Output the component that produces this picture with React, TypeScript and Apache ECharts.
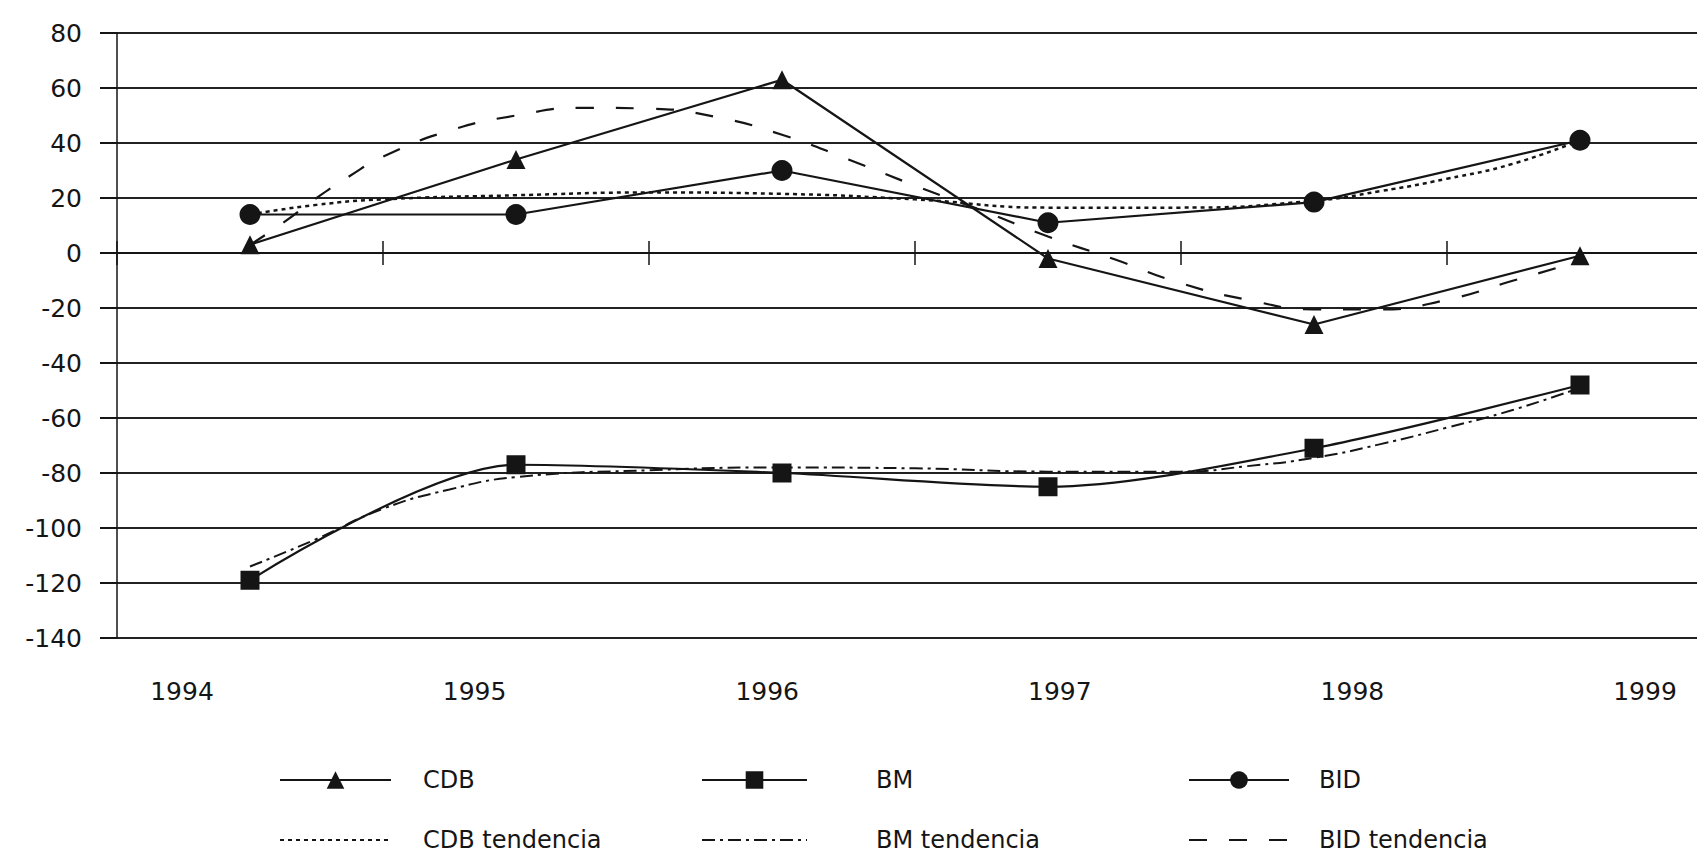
import React, { useEffect, useRef } from "react";
import * as echarts from "echarts";

// ---- data ----
const years = [1994, 1995, 1996, 1997, 1998, 1999];
const yearLabels = ["1994", "1995", "1996", "1997", "1998", "1999"];

const cdbValues = [3, 34, 63, -2, -26, -1];
const bmValues = [-119, -77, -80, -85, -71, -48];
const bidValues = [14, 14, 30, 11, 18.5, 41];

// trend lines (read at fractional years)
const cdbTrendYears = [1994, 1994.25, 1994.5, 1995, 1995.5, 1996, 1996.5, 1997, 1997.5, 1998, 1998.25, 1998.5, 1998.75, 1999];
const cdbTrendValues = [14, 17.5, 19.5, 21, 22, 21.5, 19.5, 16.5, 16.5, 19, 22.5, 27, 32.5, 41];

const bmTrendYears = [1994, 1994.25, 1994.5, 1994.75, 1995, 1995.5, 1996, 1996.5, 1997, 1997.5, 1997.75, 1998, 1998.25, 1998.5, 1998.75, 1999];
const bmTrendValues = [-114, -104, -93, -86, -81.5, -79, -78, -78.3, -79.5, -79.5, -77.5, -74.5, -69.5, -63.5, -57, -49];

const bidTrendYears = [1994, 1994.125, 1994.25, 1994.375, 1994.5, 1994.75, 1995, 1995.25, 1995.5, 1995.75, 1996, 1996.25, 1996.5, 1996.75, 1997, 1997.25, 1997.5, 1997.75, 1998, 1998.25, 1998.5, 1998.75, 1999];
const bidTrendValues = [3, 11, 20, 28, 35, 44.5, 50, 52.8, 52.5, 49.5, 43, 34, 24.5, 15.5, 6, -2.3, -11, -17, -20.5, -20.5, -17, -10, -3];

const yMin = -140;
const yMax = 80;
const yStep = 20;

// axis coordinate: each year occupies 2 units, year centres at odd numbers
const toX = (year: number) => (year - 1993.5) * 2;

const FONT = "DejaVu Sans";
const INK = "#151515";

export default function App() {
  const ref = useRef<HTMLDivElement>(null);

  useEffect(() => {
    if (!ref.current) return;
    const chart = echarts.init(ref.current, null, { renderer: "svg" });

    const main = (vals: number[]) => years.map((y, i) => [toX(y), vals[i]]);
    const trend = (ys: number[], vals: number[]) => ys.map((y, i) => [toX(y), vals[i]]);

    const baseLine = { color: INK, width: 2.2 };

    const xCommon = {
      type: "value" as const,
      gridIndex: 0,
      min: 0,
      max: 12,
      interval: 2,
      axisLabel: { show: false },
      splitLine: { show: false },
      axisTick: { show: true, length: 12, lineStyle: { color: INK, width: 1.5 } },
    };

    const legendText = (padLeft: number) => ({
      fontFamily: FONT,
      fontSize: 24,
      color: INK,
      padding: [0, 0, 0, padLeft],
    });

    const legendCommon = {
      orient: "vertical" as const,
      top: 768,
      itemHeight: 22,
      itemGap: 36,
      padding: 0,
      selectedMode: false,
    };

    chart.setOption({
      animation: false,
      backgroundColor: "#ffffff",
      grid: [
        { left: 117, top: 33, width: 1596, height: 605, containLabel: false, outerBoundsMode: "none" },
        { left: 182, top: 668, width: 1463, height: 1, containLabel: false, outerBoundsMode: "none" },
      ],
      xAxis: [
        {
          ...xCommon,
          position: "bottom",
          axisLine: { show: true, onZero: true, lineStyle: { color: INK, width: 2 } },
        },
        {
          ...xCommon,
          position: "top",
          axisLine: { show: true, onZero: true, onZeroAxisIndex: 0, lineStyle: { color: INK, width: 2 } },
        },
        {
          type: "category",
          gridIndex: 1,
          boundaryGap: false,
          data: yearLabels,
          axisLine: { show: false },
          axisTick: { show: false },
          splitLine: { show: false },
          axisLabel: { show: true, margin: 10, fontFamily: FONT, fontSize: 25, color: INK, interval: 0 },
        },
      ],
      yAxis: [
        {
          type: "value",
          gridIndex: 0,
          min: yMin,
          max: yMax,
          interval: yStep,
          axisLine: { show: true, lineStyle: { color: INK, width: 1.5 } },
          axisTick: { show: true, length: 17, lineStyle: { color: INK, width: 2 } },
          axisLabel: { show: true, margin: 35, fontFamily: FONT, fontSize: 25, color: INK },
          splitLine: { show: true, lineStyle: { color: "#222", width: 2 } },
        },
        {
          type: "value",
          gridIndex: 1,
          min: 0,
          max: 1,
          show: false,
        },
      ],
      legend: [
        {
          ...legendCommon,
          left: 279,
          itemWidth: 111,
          data: ["CDB", { name: "CDB tendencia", itemStyle: { opacity: 0 } }],
          textStyle: legendText(27),
        },
        {
          ...legendCommon,
          left: 701,
          itemWidth: 105,
          data: ["BM", { name: "BM tendencia", itemStyle: { opacity: 0 } }],
          textStyle: legendText(64),
        },
        {
          ...legendCommon,
          left: 1188,
          itemWidth: 100,
          data: ["BID", { name: "BID tendencia", itemStyle: { opacity: 0 } }],
          textStyle: legendText(25),
        },
      ],
      series: [
        {
          name: "CDB tendencia",
          type: "line",
          data: trend(cdbTrendYears, cdbTrendValues),
          smooth: true,
          showSymbol: false,
          symbol: "none",
          lineStyle: { color: INK, width: 2.5, type: [4, 4] },
          itemStyle: { color: INK },
          z: 2,
        },
        {
          name: "BM tendencia",
          type: "line",
          data: trend(bmTrendYears, bmTrendValues),
          smooth: true,
          showSymbol: false,
          symbol: "none",
          lineStyle: { color: INK, width: 2, type: [13, 5, 3, 5] },
          itemStyle: { color: INK },
          z: 2,
        },
        {
          name: "BID tendencia",
          type: "line",
          data: trend(bidTrendYears, bidTrendValues),
          smooth: true,
          showSymbol: false,
          symbol: "none",
          lineStyle: { color: INK, width: 2.2, type: [18, 22] },
          itemStyle: { color: INK },
          z: 2,
        },
        {
          name: "CDB",
          type: "line",
          data: main(cdbValues),
          symbol: "triangle",
          symbolSize: 19,
          lineStyle: baseLine,
          itemStyle: { color: INK },
          z: 3,
        },
        {
          name: "BM",
          type: "line",
          data: main(bmValues),
          smooth: 0.3,
          symbol: "rect",
          symbolSize: 19,
          lineStyle: baseLine,
          itemStyle: { color: INK },
          z: 3,
        },
        {
          name: "BID",
          type: "line",
          data: main(bidValues),
          symbol: "circle",
          symbolSize: 21,
          lineStyle: baseLine,
          itemStyle: { color: INK },
          z: 3,
        },
      ],
    });

    return () => {
      chart.dispose();
    };
  }, []);

  return (
    <div
      ref={ref}
      style={{ position: "fixed", left: 0, top: 0, width: 1697, height: 854, background: "#fff" }}
    />
  );
}
